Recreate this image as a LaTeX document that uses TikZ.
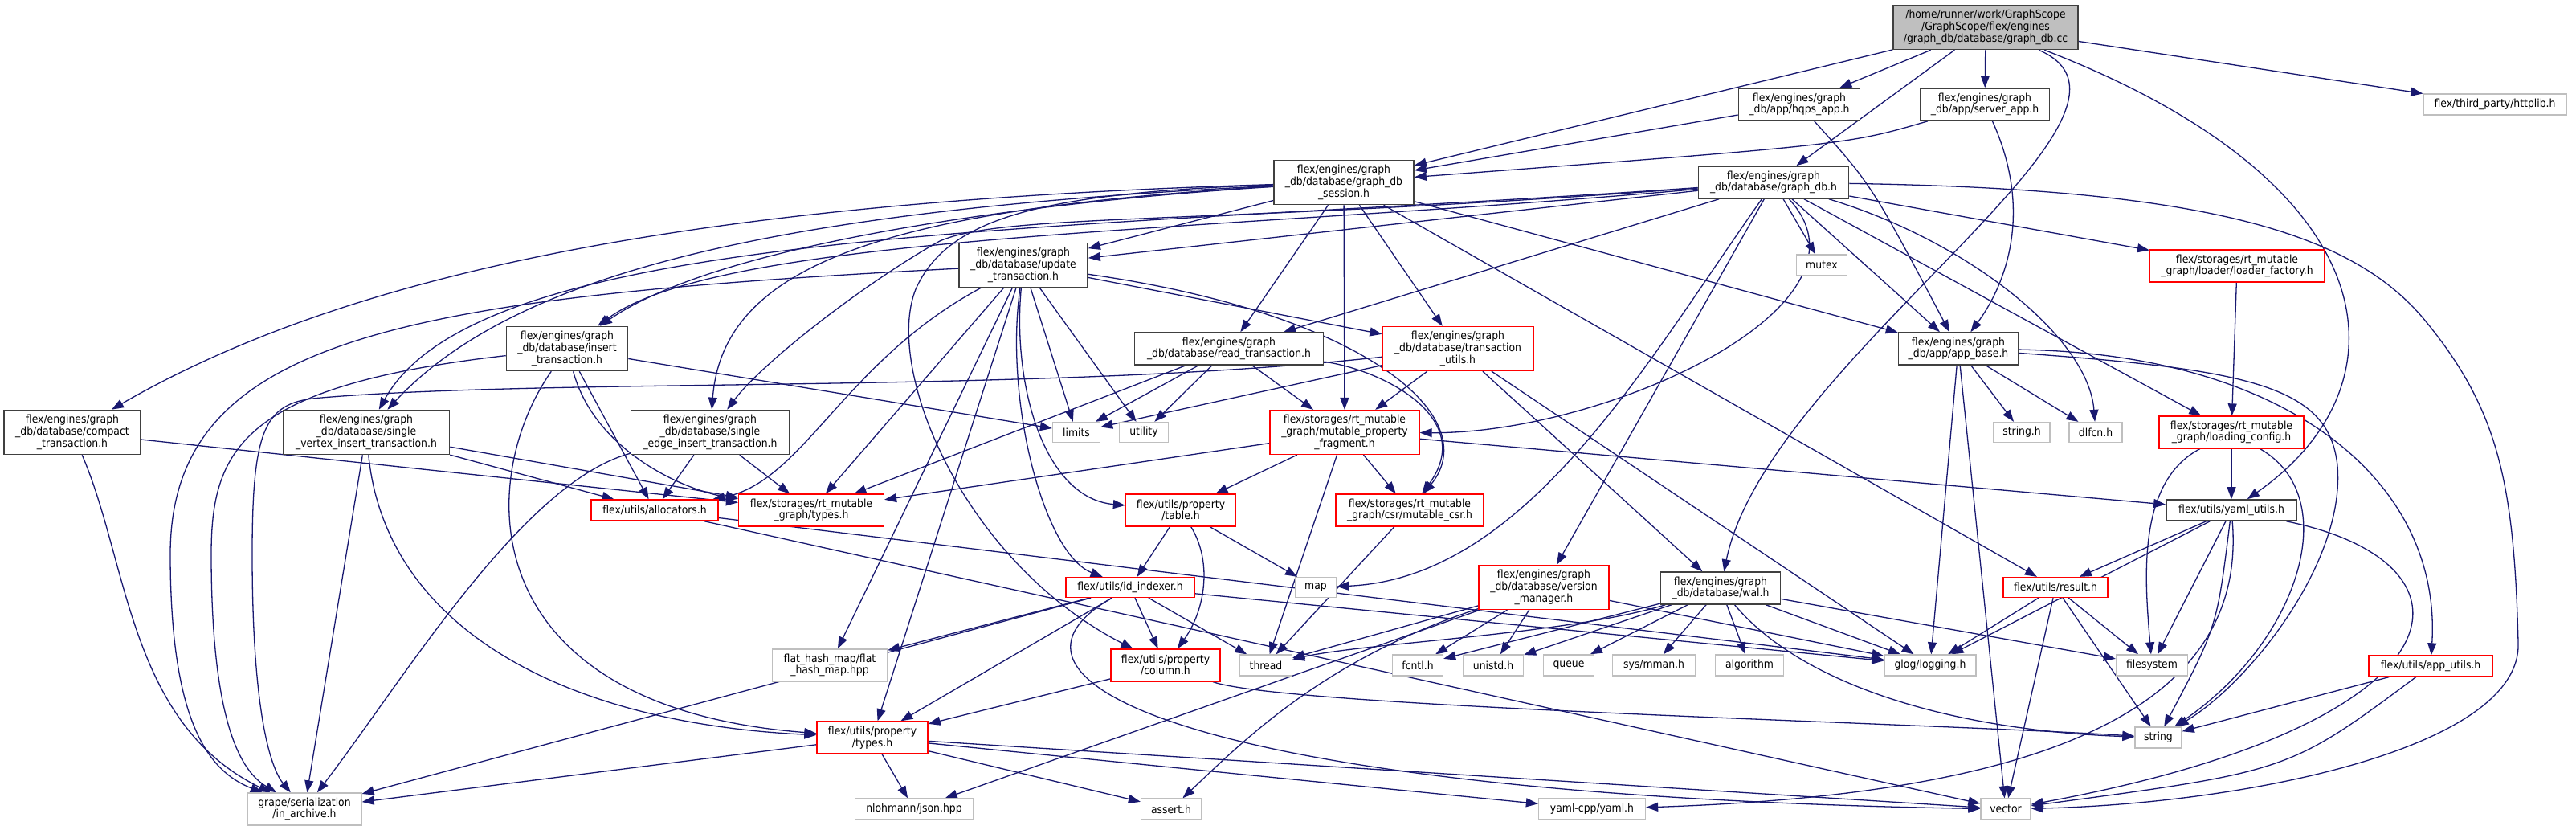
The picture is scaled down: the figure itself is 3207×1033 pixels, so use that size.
\documentclass[tikz,border=0pt]{standalone}
\usepackage{fontspec}
\usepackage{xcolor}
\usetikzlibrary{arrows.meta,backgrounds}
\IfFontExistsTF{DejaVu Sans Condensed}
  {\newfontfamily\dxfamily{DejaVu Sans Condensed}}
  {\newfontfamily\dxfamily{DejaVu Sans}[FakeStretch=0.9]}
\newcommand{\dxfont}{\dxfamily\fontsize{13.8pt}{14.7pt}\selectfont}
\definecolor{dxblue}{HTML}{191970}
\definecolor{dxgray}{HTML}{BFBFBF}

\begin{document}
\begin{tikzpicture}[x=1pt,y=-1pt,
  box/.style={draw=black!75,line width=1.6pt,fill=white,inner sep=0pt,align=center,font=\dxfont},
  redbox/.style={box,draw=red,line width=1.3pt},
  sysbox/.style={box,draw=dxgray,line width=1.3pt},
  size/.style 2 args={minimum width=#1pt,minimum height=#2pt},
  dep/.style={color=dxblue,line width=1.3pt,-{Triangle[length=15pt,width=11pt]}}]
  \useasboundingbox (0,0) rectangle (3207,1033);

  \node[box,fill=dxgray,size={230}{55}] (root) at (2472,34) {/home/runner/work/GraphScope\\/GraphScope/flex/engines\\/graph\_db/database/graph\_db.cc};
  \node[box,size={151}{40}] (hqps) at (2240,130) {flex/engines/graph\\\_db/app/hqps\_app.h};
  \node[box,size={161}{40}] (server) at (2471,130) {flex/engines/graph\\\_db/app/server\_app.h};
  \node[sysbox,size={178}{26}] (httplib) at (3106,130) {flex/third\_party/httplib.h};
  \node[box,size={174}{55}] (session) at (1673,227) {flex/engines/graph\\\_db/database/graph\_db\\\_session.h};
  \node[box,size={187}{40}] (graphdb) at (2208,227) {flex/engines/graph\\\_db/database/graph\_db.h};
  \node[sysbox,size={63}{26}] (mutex) at (2268,330) {mutex};
  \node[redbox,size={217}{40}] (loaderfac) at (2785,331) {flex/storages/rt\_mutable\\\_graph/loader/loader\_factory.h};
  \node[box,size={160}{55}] (update) at (1274,330) {flex/engines/graph\\\_db/database/update\\\_transaction.h};
  \node[box,size={151}{55}] (insert) at (706,434) {flex/engines/graph\\\_db/database/insert\\\_transaction.h};
  \node[box,size={235}{40}] (read) at (1530,434) {flex/engines/graph\\\_db/database/read\_transaction.h};
  \node[redbox,size={188}{55}] (txutils) at (1815,434) {flex/engines/graph\\\_db/database/transaction\\\_utils.h};
  \node[box,size={149}{40}] (appbase) at (2438,434) {flex/engines/graph\\\_db/app/app\_base.h};
  \node[box,size={170}{55}] (compact) at (90,538) {flex/engines/graph\\\_db/database/compact\\\_transaction.h};
  \node[box,size={207}{55}] (svinsert) at (456,538) {flex/engines/graph\\\_db/database/single\\\_vertex\_insert\_transaction.h};
  \node[box,size={197}{55}] (seinsert) at (884,538) {flex/engines/graph\\\_db/database/single\\\_edge\_insert\_transaction.h};
  \node[sysbox,size={59}{25}] (limits) at (1340,538) {limits};
  \node[sysbox,size={61}{25}] (utility) at (1424,538) {utility};
  \node[redbox,size={186}{55}] (mpf) at (1674,538) {flex/storages/rt\_mutable\\\_graph/mutable\_property\\\_fragment.h};
  \node[sysbox,size={70}{25}] (stringh) at (2517,538) {string.h};
  \node[sysbox,size={66}{25}] (dlfcn) at (2609,538) {dlfcn.h};
  \node[redbox,size={180}{40}] (loadcfg) at (2778,538) {flex/storages/rt\_mutable\\\_graph/loading\_config.h};
  \node[redbox,size={158}{26}] (allocators) at (815,635) {flex/utils/allocators.h};
  \node[redbox,size={181}{40}] (rttypes) at (1010,635) {flex/storages/rt\_mutable\\\_graph/types.h};
  \node[redbox,size={137}{40}] (table) at (1470,635) {flex/utils/property\\/table.h};
  \node[redbox,size={184}{40}] (mutablecsr) at (1755,635) {flex/storages/rt\_mutable\\\_graph/csr/mutable\_csr.h};
  \node[box,size={162}{26}] (yamlutils) at (2778,635) {flex/utils/yaml\_utils.h};
  \node[redbox,size={160}{25}] (idindexer) at (1407,731) {flex/utils/id\_indexer.h};
  \node[sysbox,size={51}{25}] (map) at (1638,731) {map};
  \node[redbox,size={162}{55}] (versionmgr) at (1922,731) {flex/engines/graph\\\_db/database/version\\\_manager.h};
  \node[box,size={149}{40}] (wal) at (2142,732) {flex/engines/graph\\\_db/database/wal.h};
  \node[redbox,size={130}{25}] (result) at (2559,731) {flex/utils/result.h};
  \node[sysbox,size={143}{40}] (flathash) at (1033,828) {flat\_hash\_map/flat\\\_hash\_map.hpp};
  \node[redbox,size={136}{40}] (column) at (1451,828) {flex/utils/property\\/column.h};
  \node[sysbox,size={65}{26}] (thread) at (1576,828) {thread};
  \node[sysbox,size={63}{26}] (fcntl) at (1765,828) {fcntl.h};
  \node[sysbox,size={75}{26}] (unistd) at (1859,828) {unistd.h};
  \node[sysbox,size={63}{26}] (queue) at (1953,828) {queue};
  \node[sysbox,size={103}{26}] (sysmman) at (2059,828) {sys/mman.h};
  \node[sysbox,size={85}{26}] (algorithm) at (2178,828) {algorithm};
  \node[sysbox,size={114}{26}] (glog) at (2403,828) {glog/logging.h};
  \node[sysbox,size={89}{26}] (filesystem) at (2679,828) {filesystem};
  \node[redbox,size={154}{26}] (apputils) at (3026,829) {flex/utils/app\_utils.h};
  \node[redbox,size={138}{40}] (proptypes) at (1086,918) {flex/utils/property\\/types.h};
  \node[sysbox,size={58}{26}] (string) at (2687,918) {string};
  \node[sysbox,size={142}{40}] (inarchive) at (379,1007) {grape/serialization\\/in\_archive.h};
  \node[sysbox,size={147}{26}] (json) at (1138,1007) {nlohmann/json.hpp};
  \node[sysbox,size={75}{26}] (assert) at (1458,1007) {assert.h};
  \node[sysbox,size={133}{26}] (yamlcpp) at (1982,1007) {yaml-cpp/yaml.h};
  \node[sysbox,size={62}{26}] (vector) at (2497,1007) {vector};

  \begin{scope}[on background layer={dep}]
  \draw (root)--(session); \draw (root)--(hqps); \draw (root)--(server);
  \draw (root)--(graphdb); \draw (root)--(httplib);
  \draw (root) .. controls (2720,140) and (2200,450) .. (wal);
  \draw (root) .. controls (2980,230) and (3000,480) .. (yamlutils);

  \draw (hqps)--(session); \draw (hqps) .. controls (2330,230) .. (appbase);
  \draw (server) .. controls (2300,180) .. (session);
  \draw (server) .. controls (2530,260) and (2500,350) .. (appbase);

  \draw (session)--(update); \draw (session) .. controls (1300,250) and (900,300) .. (insert);
  \draw (session) .. controls (900,250) and (450,330) .. (compact);
  \draw (session) .. controls (1000,260) and (650,330) .. (svinsert);
  \draw (session) .. controls (1100,260) and (900,330) .. (seinsert);
  \draw (session)--(read); \draw (session)--(txutils); \draw (session)--(mpf);
  \draw (session)--(appbase); \draw (session)--(result);
  \draw (session) .. controls (1300,240) and (1180,270) .. (1140,360) .. controls (1100,460) and (1200,700) .. (column);

  \draw (graphdb)--(update); \draw (graphdb)--(read); \draw (graphdb)--(appbase);
  \draw (graphdb) .. controls (1500,290) and (900,290) .. (insert);
  \draw (graphdb) .. controls (1300,290) and (600,280) .. (svinsert);
  \draw (graphdb) .. controls (1500,280) and (1250,265) .. (1170,300) .. controls (1080,350) and (950,450) .. (seinsert);
  \draw (graphdb) .. controls (2350,380) and (2000,540) .. (mpf);
  \draw (graphdb)--(loaderfac); \draw (graphdb)--(loadcfg); \draw (graphdb)--(versionmgr);
  \draw (graphdb) .. controls (2450,300) and (2600,420) .. (dlfcn);
  \draw (graphdb)--(mutex); \draw (graphdb) .. controls (2050,450) and (1900,720) .. (map);
  \draw (graphdb) .. controls (2750,235) and (2930,290) .. (3020,400) .. controls (3110,510) and (3130,600) .. (3135,800) .. controls (3140,930) and (2800,1000) .. (vector);

  \draw (update)--(txutils); \draw (update)--(limits); \draw (update)--(utility);
  \draw (update)--(rttypes); \draw (update)--(flathash); \draw (update)--(proptypes);
  \draw (update) .. controls (1050,450) and (1000,600) .. (allocators);
  \draw (update) .. controls (1260,480) and (1300,620) .. (table);
  \draw (update) .. controls (1250,500) and (1300,690) .. (idindexer);
  \draw (update) .. controls (1700,390) and (1850,520) .. (mutablecsr);
  \draw (update) .. controls (500,370) and (212,420) .. (212,690) .. controls (212,900) and (260,960) .. (inarchive);

  \draw (insert)--(limits); \draw (insert)--(allocators);
  \draw (insert) .. controls (740,560) and (850,610) .. (rttypes);
  \draw (insert) .. controls (590,600) and (590,880) .. (proptypes);
  \draw (insert) .. controls (300,480) and (263,560) .. (263,690) .. controls (263,900) and (300,960) .. (inarchive);
  \draw (compact)--(rttypes); \draw (compact) .. controls (160,700) and (160,900) .. (inarchive);
  \draw (svinsert)--(rttypes); \draw (svinsert)--(allocators); \draw (svinsert)--(inarchive);
  \draw (svinsert) .. controls (480,780) and (700,900) .. (proptypes);
  \draw (seinsert)--(rttypes); \draw (seinsert)--(allocators);
  \draw (seinsert) .. controls (650,600) and (500,850) .. (inarchive);

  \draw (read)--(mpf); \draw (read)--(limits); \draw (read)--(utility); \draw (read)--(rttypes);
  \draw (read) .. controls (1720,460) and (1840,520) .. (mutablecsr);
  \draw (txutils)--(mpf); \draw (txutils)--(limits); \draw (txutils)--(wal); \draw (txutils)--(glog);
  \draw (txutils) .. controls (1300,490) and (700,470) .. (400,495) .. controls (330,500) and (314,530) .. (314,690) .. controls (314,900) and (340,960) .. (inarchive);
  \draw (mpf)--(rttypes); \draw (mpf)--(table); \draw (mpf)--(mutablecsr);
  \draw (mpf)--(yamlutils); \draw (mpf)--(thread);

  \draw (allocators)--(glog); \draw (allocators)--(vector);
  \draw (table)--(idindexer); \draw (table)--(map);
  \draw (table) .. controls (1510,700) and (1500,760) .. (column);
  \draw (idindexer)--(flathash); \draw (idindexer)--(column); \draw (idindexer)--(thread);
  \draw (idindexer)--(proptypes); \draw (idindexer)--(glog); \draw (idindexer)--(inarchive);
  \draw (idindexer) .. controls (1200,850) and (1500,990) .. (vector);
  \draw (column)--(proptypes); \draw (column) .. controls (1600,880) and (2400,900) .. (string);
  \draw (proptypes)--(inarchive); \draw (proptypes)--(json); \draw (proptypes)--(assert);
  \draw (proptypes)--(yamlcpp); \draw (proptypes)--(vector);
  \draw (mutablecsr)--(thread);

  \draw (versionmgr)--(thread); \draw (versionmgr)--(fcntl); \draw (versionmgr)--(unistd);
  \draw (versionmgr)--(json); \draw (versionmgr)--(glog);
  \draw (versionmgr) .. controls (1650,820) and (1550,920) .. (assert);
  \draw (wal) .. controls (1950,790) and (1700,800) .. (thread);
  \draw (wal)--(fcntl); \draw (wal)--(unistd); \draw (wal)--(queue); \draw (wal)--(sysmman);
  \draw (wal)--(algorithm); \draw (wal)--(glog); \draw (wal)--(filesystem);
  \draw (wal) .. controls (2250,860) and (2450,910) .. (string);

  \draw (appbase)--(stringh); \draw (appbase)--(dlfcn); \draw (appbase)--(glog); \draw (appbase)--(vector);
  \draw (appbase) .. controls (2800,460) and (2900,480) .. (2910,580) .. controls (2920,700) and (2800,850) .. (string);
  \draw (appbase) .. controls (2850,440) and (3040,600) .. (apputils);
  \draw (loaderfac)--(loadcfg);
  \draw (loadcfg)--(yamlutils); \draw (loadcfg) .. controls (2660,600) and (2670,720) .. (filesystem);
  \draw (loadcfg) .. controls (2920,620) and (2860,800) .. (string);
  \draw (yamlutils)--(result); \draw (yamlutils)--(glog); \draw (yamlutils)--(filesystem);
  \draw (yamlutils) .. controls (2760,780) .. (string);
  \draw (yamlutils) .. controls (2800,900) and (2500,990) .. (yamlcpp);
  \draw (yamlutils) .. controls (3100,700) and (3080,900) .. (vector);
  \draw (result)--(glog); \draw (result)--(filesystem); \draw (result)--(string); \draw (result)--(vector);
  \draw (apputils)--(string); \draw (apputils) .. controls (2850,960) .. (vector);
  \end{scope}
\end{tikzpicture}
\end{document}
